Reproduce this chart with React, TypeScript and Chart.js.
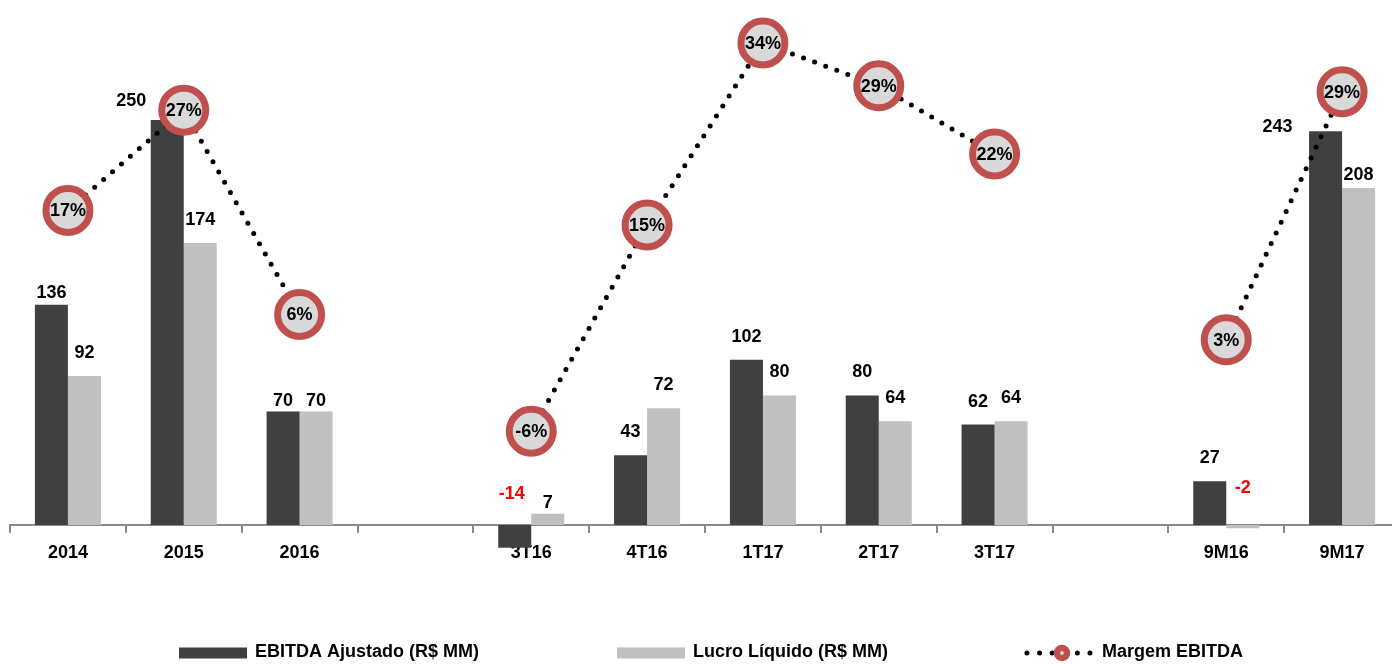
import React, { useEffect, useRef } from "react";
import { Chart, registerables } from "chart.js";

Chart.register(...registerables);

const categories = ["2014", "2015", "2016", "", "3T16", "4T16", "1T17", "2T17", "3T17", "", "9M16", "9M17"];
const ebitda: (number | null)[] = [136, 250, 70, null, -14, 43, 102, 80, 62, null, 27, 243];
const lucro: (number | null)[] = [92, 174, 70, null, 7, 72, 80, 64, 64, null, -2, 208];
const margem: (number | null)[] = [16.6, 26.9, 5.9, null, -6.1, 15.1, 33.8, 29.4, 22.4, null, 3.3, 28.8];

const seriesNames = ["EBITDA Ajustado (R$ MM)", "Lucro Líquido (R$ MM)", "Margem EBITDA"];

// manual label nudges (dx, dy) as in the original layout
const ebitdaNudge: [number, number][] = [[0, 11], [-36, 4], [0, 12], [0, 0], [-3, -8], [0, 0], [0, 0], [0, 0], [0, 0], [0, 0], [0, 0], [-48, 19]];
const lucroNudge: [number, number][] = [[0, 0], [0, 0], [0, 12], [0, 0], [0, 12], [0, 0], [0, 0], [0, 0], [0, 0], [0, 0], [0, -14], [0, 10]];

const DARK = "#404040";
const LIGHT = "#c0c0c0";
const RED = "#c0504d";
const CIRCLE_FILL = "#d9d9d9";
const AXIS = "#8a8a8a";
const FONT_FAMILY = "'Liberation Sans', Arial, sans-serif";
const FONT_SIZE = 18;
const LABEL_FONT = `bold ${FONT_SIZE}px ${FONT_FAMILY}`;

const valueLabels = {
  id: "valueLabels",
  afterDatasetsDraw(chart: any) {
    const ctx = chart.ctx;
    const yScale = chart.scales.y;
    ctx.save();
    ctx.font = LABEL_FONT;
    ctx.textAlign = "center";
    ctx.textBaseline = "middle";
    const nudges = [ebitdaNudge, lucroNudge];
    [0, 1].forEach((di) => {
      const meta = chart.getDatasetMeta(di);
      const data = chart.data.datasets[di].data as (number | null)[];
      meta.data.forEach((el: any, i: number) => {
        const v = data[i];
        if (v == null) return;
        const top = yScale.getPixelForValue(Math.max(v, 0));
        const n = nudges[di][i] || [0, 0];
        ctx.fillStyle = v < 0 ? "#ff0000" : "#000000";
        ctx.fillText(String(v), el.x + n[0], top - 23 + n[1]);
      });
    });
    const lmeta = chart.getDatasetMeta(2);
    lmeta.data.forEach((el: any, i: number) => {
      const v = margem[i];
      if (v == null) return;
      ctx.fillStyle = "#000000";
      ctx.fillText(`${Math.round(v)}%`, el.x, el.y + 1);
    });
    ctx.restore();
  },
};

const customLegend = {
  id: "customLegend",
  afterDraw(chart: any) {
    const ctx = chart.ctx;
    ctx.save();
    ctx.font = LABEL_FONT;
    ctx.textBaseline = "middle";
    ctx.textAlign = "left";
    const boxW = 68;
    const gapText = 8;
    const gapItem = 138;
    const widths = seriesNames.map((t) => ctx.measureText(t).width);
    const total = widths.reduce((a, w) => a + boxW + gapText + w, 0) + gapItem * (seriesNames.length - 1);
    const center = (chart.chartArea.left + chart.chartArea.right) / 2 + 6;
    let x = center - total / 2;
    const yc = 653;
    seriesNames.forEach((name, i) => {
      if (i < 2) {
        ctx.fillStyle = i === 0 ? DARK : LIGHT;
        ctx.fillRect(x, yc - 5.5, boxW, 11);
      } else {
        ctx.save();
        ctx.strokeStyle = "#000000";
        ctx.lineWidth = 5;
        ctx.lineCap = "round";
        ctx.setLineDash([0, 12.6]);
        ctx.beginPath();
        ctx.moveTo(x + 1, yc);
        ctx.lineTo(x + boxW - 2, yc);
        ctx.stroke();
        ctx.setLineDash([]);
        ctx.fillStyle = RED;
        ctx.beginPath();
        ctx.arc(x + 36, yc, 8.3, 0, Math.PI * 2);
        ctx.fill();
        ctx.fillStyle = CIRCLE_FILL;
        ctx.beginPath();
        ctx.arc(x + 36, yc, 2, 0, Math.PI * 2);
        ctx.fill();
        ctx.restore();
      }
      ctx.fillStyle = "#000000";
      ctx.fillText(name, x + boxW + gapText, yc - 1);
      x += boxW + gapText + widths[i] + gapItem;
    });
    ctx.restore();
  },
};

export default function App() {
  const ref = useRef<HTMLCanvasElement | null>(null);
  useEffect(() => {
    if (!ref.current) return;
    const chart = new Chart(ref.current, {
      type: "bar",
      data: {
        labels: categories,
        datasets: [
          {
            type: "bar",
            label: seriesNames[0],
            data: ebitda,
            backgroundColor: DARK,
            yAxisID: "y",
            order: 2,
            categoryPercentage: 0.57,
            barPercentage: 1.0,
          },
          {
            type: "bar",
            label: seriesNames[1],
            data: lucro,
            backgroundColor: LIGHT,
            yAxisID: "y",
            order: 2,
            categoryPercentage: 0.57,
            barPercentage: 1.0,
          },
          {
            type: "line",
            label: seriesNames[2],
            data: margem,
            yAxisID: "y2",
            order: 0,
            borderColor: "#000000",
            borderWidth: 5,
            borderDash: [0, 11.8],
            borderCapStyle: "round",
            spanGaps: false,
            tension: 0,
            fill: false,
            pointRadius: 22,
            pointBorderWidth: 7,
            pointBackgroundColor: CIRCLE_FILL,
            pointBorderColor: RED,
            clip: false,
          } as any,
        ],
      },
      options: {
        responsive: false,
        animation: false,
        events: [],
        layout: { autoPadding: false, padding: { left: 10, right: 0, top: 0, bottom: 64 } },
        plugins: {
          legend: { display: false },
          tooltip: { enabled: false },
        },
        scales: {
          x: {
            type: "category",
            position: { y: 0 } as any,
            offset: true,
            grid: {
              offset: true,
              drawOnChartArea: false,
              drawTicks: true,
              tickLength: 7,
              color: AXIS,
              lineWidth: 2,
            },
            border: { display: true, color: AXIS, width: 2 },
            ticks: {
              font: { family: FONT_FAMILY, size: FONT_SIZE, weight: "bold" },
              color: "#000000",
              padding: 10,
              maxRotation: 0,
              autoSkip: false,
            },
          },
          y: {
            type: "linear",
            display: false,
            min: -46.3,
            max: 324.07,
          },
          y2: {
            type: "linear",
            display: false,
            min: -23.44,
            max: 38.22,
          },
        },
      } as any,
      plugins: [valueLabels, customLegend],
    });
    return () => chart.destroy();
  }, []);
  return (
    <div style={{ position: "absolute", left: 0, top: 0, width: 1392, height: 664, overflow: "hidden", background: "#ffffff" }}>
      <canvas ref={ref} width={1400} height={664} style={{ display: "block" }} />
    </div>
  );
}
